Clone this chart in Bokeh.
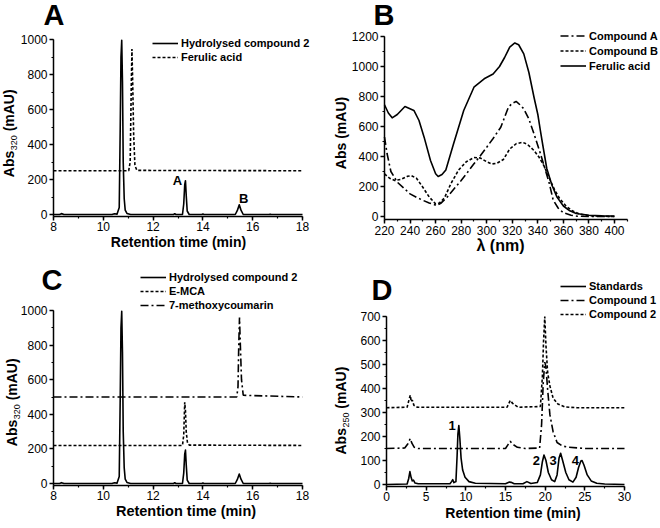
import math
from bokeh.plotting import figure
from bokeh.models import Range1d, SingleIntervalTicker, Legend, LegendItem, Label
from bokeh.layouts import gridplot
from bokeh.embed import file_html
from bokeh.resources import INLINE

FONT = "Liberation Sans"

# ---------------- Panel A / C : HPLC at 320 nm ----------------
hyd_t = [8.0, 8.25, 8.32, 8.42, 10.35, 10.45, 10.55, 10.64, 10.68, 10.71, 10.74, 10.77, 10.80,
         10.84, 10.88, 10.95, 11.1, 12.82, 12.87, 12.92, 13.18, 13.23, 13.27, 13.30, 13.33, 13.37,
         13.45, 13.96, 14.0, 14.04, 15.3, 15.38, 15.46, 15.53, 15.62, 16.65, 16.7, 16.75, 18.0]
hyd_v = [0, 0, 5, 0, 0, 4, 2, 40, 500, 900, 995, 760, 300,
         90, 25, 6, 0, 0, 4, 0, 0, 60, 170, 193, 110, 20,
         0, 0, 3, 0, 0, 22, 55, 25, 0, 0, 2, 0, 0]

fer_t = [8.0, 11.02, 11.08, 11.12, 11.15, 11.18, 11.22, 11.27, 11.35, 18.0]
fer_v = [250, 250, 300, 700, 945, 760, 450, 280, 252, 250]

emca_t = [8.0, 13.18, 13.23, 13.27, 13.30, 13.33, 13.38, 13.45, 18.0]
emca_v = [220, 220, 280, 470, 420, 300, 235, 222, 220]

mc_t = [8.0, 15.36, 15.41, 15.44, 15.47, 15.50, 15.55, 15.62, 18.0]
mc_v = [500, 500, 560, 800, 960, 820, 600, 510, 500]

peak_lbl_A = ["A", "B"]
peak_lbl_A_t = [12.98, 15.64]
peak_lbl_A_v = [197, 93]

# ---------------- Panel B : UV spectra ----------------
wl_fer = [220, 223, 226, 230, 236, 243, 247, 251, 256, 260, 262, 265, 268, 274, 282, 290, 298,
          305, 310, 314, 318, 322, 325, 329, 333, 337, 340, 342, 344, 347, 351, 355, 360, 365,
          370, 380, 390, 400]
abs_fer = [745, 690, 658, 680, 733, 707, 640, 529, 373, 285, 267, 280, 310, 484, 707, 862, 918,
           950, 1000, 1060, 1129, 1157, 1145, 1084, 960, 795, 680, 573, 470, 320, 210, 129, 70, 38,
           20, 8, 4, 3]

wl_a = [220, 222, 225, 230, 235, 240, 245, 250, 255, 261, 264, 269, 274, 280, 285, 290, 295, 300,
        305, 311, 317, 320, 323, 326, 329, 333, 337, 342, 346, 349, 352, 356, 360, 366, 371, 380, 400]
abs_a = [530, 420, 300, 229, 190, 151, 128, 108, 90, 73, 88, 129, 180, 240, 295, 351, 405, 462,
         520, 595, 729, 755, 767, 745, 718, 650, 551, 420, 307, 220, 110, 55, 25, 8, 2, 0, 0]

wl_b = [220, 224, 228, 233, 238, 241, 245, 250, 255, 260, 263, 267, 272, 278, 284, 290, 295, 300,
        304, 308, 313, 318, 323, 328, 332, 337, 341, 345, 349, 353, 357, 362, 367, 372, 380, 400]
abs_b = [284, 255, 240, 248, 268, 272, 255, 195, 130, 84, 90, 125, 220, 310, 365, 393, 390, 365,
         350, 355, 380, 450, 485, 495, 480, 440, 395, 335, 255, 180, 120, 70, 38, 18, 5, 0]

# ---------------- Panel D : HPLC at 250 nm ----------------
std_t = [0, 2.6, 2.8, 2.95, 3.1, 3.25, 3.4, 3.6, 4.0, 8.0, 8.2, 8.35, 8.5, 8.75, 8.9, 9.0, 9.12,
         9.25, 9.4, 9.6, 9.9, 10.4, 11.2, 15.0, 15.5, 15.7, 16.1, 17.2, 17.7, 18.2, 19.0, 19.4,
         19.65, 19.85, 20.1, 20.4, 20.8, 21.2, 21.5, 21.75, 21.95, 22.2, 22.6, 23.0, 23.5, 23.9,
         24.2, 24.5, 24.65, 24.9, 25.3, 25.8, 26.5, 27.5, 30]
std_v = [0, 2, 25, 54, 30, 15, 18, 6, 3, 3, 12, 20, 8, 12, 120, 210, 246,
         190, 110, 60, 30, 12, 5, 3, 10, 9, 3, 3, 12, 4, 8, 40,
         95, 123, 100, 50, 20, 12, 40, 110, 130, 100, 50, 20, 10, 30,
         70, 98, 100, 80, 40, 15, 5, 2, 0]

c1_t = [0, 2.3, 2.7, 3.0, 3.2, 3.5, 4.0, 15.0, 15.3, 15.6, 15.9, 16.5, 17.5, 19.3, 19.55, 19.75,
        19.95, 20.1, 20.3, 20.6, 21.0, 21.5, 22.2, 23.0, 25.0, 30]
c1_v = [150, 152, 170, 192, 172, 155, 150, 150, 165, 180, 168, 155, 150, 152, 250, 420,
        510, 490, 400, 290, 220, 175, 160, 155, 150, 150]

c2_t = [0, 2.6, 2.85, 3.0, 3.12, 3.25, 3.45, 3.9, 15.2, 15.6, 15.9, 16.6, 19.4, 19.65, 19.8,
        19.95, 20.1, 20.3, 20.6, 21.0, 21.6, 22.5, 24.0, 30]
c2_v = [320, 322, 355, 372, 345, 352, 330, 322, 322, 350, 338, 322, 325, 450, 600,
        700, 580, 470, 410, 360, 335, 323, 320, 320]

peak_lbl_D = ["1", "2", "3", "4"]
peak_lbl_D_t = [8.28, 18.9, 21.0, 23.8]
peak_lbl_D_v = [246, 100, 100, 100]

DOT = "3 2"
DASHDOT = "8 3 2 3"
LW = 1.6
W, H = 330, 264


def span(v0, p0, v1, p1, size, vertical=False):
    """Range covering the whole canvas, given two value->pixel calibrations."""
    if not vertical:
        k = (v1 - v0) / (p1 - p0)
        return (v0 - p0 * k, v0 + (size - p0) * k)
    k = (v1 - v0) / (p0 - p1)
    return (v0 + (p0 - size) * k, v0 + p0 * k)


def make_fig(xcal, ycal, xbounds, ybounds, xint, yint):
    xr = span(*xcal, W)
    yr = span(*ycal, H, vertical=True)
    p = figure(width=W, height=H, output_backend="svg", toolbar_location=None,
               x_range=Range1d(*xr), y_range=Range1d(*yr),
               min_border_left=0, min_border_right=0, min_border_top=0, min_border_bottom=0)
    p.xaxis.ticker = SingleIntervalTicker(interval=xint, num_minor_ticks=2)
    p.yaxis.ticker = SingleIntervalTicker(interval=yint, num_minor_ticks=2)
    p.xaxis.fixed_location = ybounds[0]
    p.yaxis.fixed_location = xbounds[0]
    p.xaxis.bounds = xbounds
    p.yaxis.bounds = ybounds
    for ax in (p.xaxis[0], p.yaxis[0]):
        ax.axis_line_width = 1.5
        ax.axis_line_color = "black"
        ax.major_tick_in = 0
        ax.major_tick_out = 4
        ax.minor_tick_in = 0
        ax.minor_tick_out = 2
        ax.major_tick_line_width = 1.5
        ax.minor_tick_line_width = 1.2
        ax.major_tick_line_color = "black"
        ax.minor_tick_line_color = "black"
        ax.major_label_standoff = 2
        ax.major_label_text_font = FONT
        ax.major_label_text_font_size = "12px"
        ax.major_label_text_color = "black"
    p.xgrid.visible = False
    p.ygrid.visible = False
    p.outline_line_color = None
    p.background_fill_color = "white"
    p.border_fill_color = "white"
    return p


def add_legend(p, items, loc, row_h=14):
    lg = Legend(items=[LegendItem(label=l, renderers=[r]) for l, r in items],
                location=loc, orientation="vertical", padding=0, margin=0, spacing=0,
                glyph_width=26, glyph_height=row_h, label_height=row_h, label_standoff=3,
                label_text_font=FONT, label_text_font_style="bold", label_text_font_size="11px",
                label_text_color="black", border_line_color=None, background_fill_alpha=0)
    p.add_layout(lg)


def screen_label(p, x, y, text, size, style="bold", angle=0.0, align="left"):
    # (x, y): centre of the text box across its baseline direction
    p.add_layout(Label(x=x, y=y, x_units="screen", y_units="screen", text=text, angle=angle,
                       text_font=FONT, text_font_size=size, text_font_style=style,
                       text_color="black", text_align=align, text_baseline="middle"))


def y_title_sub(p, x, y0, main, sub, rest, size=14, sub_size=9):
    a = math.pi / 2
    w_main = sum({"A": .722, "b": .611, "s": .556}[c] for c in main) * size
    w_sub = len(sub) * .556 * sub_size
    screen_label(p, x, y0, main, f"{size}px", angle=a)
    screen_label(p, x + 5, y0 + w_main + 0.5, sub, f"{sub_size}px", style="normal", angle=a)
    screen_label(p, x, y0 + w_main + w_sub + 0.278 * size + 0.5, rest, f"{size}px", angle=a)


def peak_labels(p, texts, ts, vs):
    for s, t, v in zip(texts, ts, vs):
        p.add_layout(Label(x=t, y=v, text=s, text_font=FONT, text_font_size="13px",
                           text_font_style="bold", text_color="black",
                           text_align="center", text_baseline="middle"))


# ---------------- A ----------------
pa = make_fig((8, 53, 18, 302), (0, 214, 1000, 39), (8, 18), (-11.4, 1000), 2, 200)
ra1 = pa.line(hyd_t, hyd_v, line_color="black", line_width=LW, line_join="round")
ra2 = pa.line(fer_t, fer_v, line_color="black", line_width=LW, line_dash=DOT)
add_legend(pa, [("Hydrolysed compound 2", ra1), ("Ferulic acid", ra2)], (152, 200))
peak_labels(pa, peak_lbl_A, peak_lbl_A_t, peak_lbl_A_v)
screen_label(pa, 43, 249.5, "A", "29px")
screen_label(pa, 178, 23, "Retention time (min)", "14px", align="center")
y_title_sub(pa, 8.5, 87.3, "Abs", "320", "(mAU)")

# ---------------- B ----------------
pb = make_fig((220, 54, 400, 284), (0, 216, 1200, 36), (220, 410), (-20, 1200), 20, 200)
rb1 = pb.line(wl_a, abs_a, line_color="black", line_width=LW, line_dash=DASHDOT)
rb2 = pb.line(wl_b, abs_b, line_color="black", line_width=LW, line_dash=DOT)
rb3 = pb.line(wl_fer, abs_fer, line_color="black", line_width=LW, line_join="round")
add_legend(pb, [("Compound A", rb1), ("Compound B", rb2), ("Ferulic acid", rb3)], (230, 191), row_h=15)
screen_label(pb, 43, 249.5, "B", "29px")
screen_label(pb, 170, 19, "λ (nm)", "16px", align="center")
screen_label(pb, 10, 131.5, "Abs (mAU)", "14px", angle=math.pi / 2, align="center")

# ---------------- C ----------------
pc = make_fig((8, 53, 18, 302), (0, 219, 1000, 46), (8, 18), (-11.5, 1000), 2, 200)
rc1 = pc.line(hyd_t, hyd_v, line_color="black", line_width=LW, line_join="round")
rc2 = pc.line(emca_t, emca_v, line_color="black", line_width=LW, line_dash=DOT)
rc3 = pc.line(mc_t, mc_v, line_color="black", line_width=LW, line_dash=DASHDOT)
add_legend(pc, [("Hydrolysed compound 2", rc1), ("E-MCA", rc2), ("7-methoxycoumarin", rc3)], (140, 216))
screen_label(pc, 41, 248.5, "C", "29px")
screen_label(pc, 185.5, 17.3, "Retention time (min)", "14.5px", align="center")
y_title_sub(pc, 11.3, 82.3, "Abs", "320", "(mAU)")

# ---------------- D ----------------
pd_ = make_fig((0, 56, 30, 294), (0, 220, 700, 52), (0, 30), (-8.3, 700), 5, 100)
rd1 = pd_.line(std_t, std_v, line_color="black", line_width=LW, line_join="round")
rd2 = pd_.line(c1_t, c1_v, line_color="black", line_width=LW, line_dash=DASHDOT)
rd3 = pd_.line(c2_t, c2_v, line_color="black", line_width=LW, line_dash=DOT)
add_legend(pd_, [("Standards", rd1), ("Compound 1", rd2), ("Compound 2", rd3)], (230, 207))
peak_labels(pd_, peak_lbl_D, peak_lbl_D_t, peak_lbl_D_v)
screen_label(pd_, 41, 238.7, "D", "29px")
screen_label(pd_, 182.5, 15.7, "Retention time (min)", "14px", align="center")
y_title_sub(pd_, 10.8, 74, "Abs", "250", "(mAU)")

grid = gridplot([[pa, pb], [pc, pd_]], toolbar_location=None)

open("out.html", "w").write(file_html(grid, INLINE))
